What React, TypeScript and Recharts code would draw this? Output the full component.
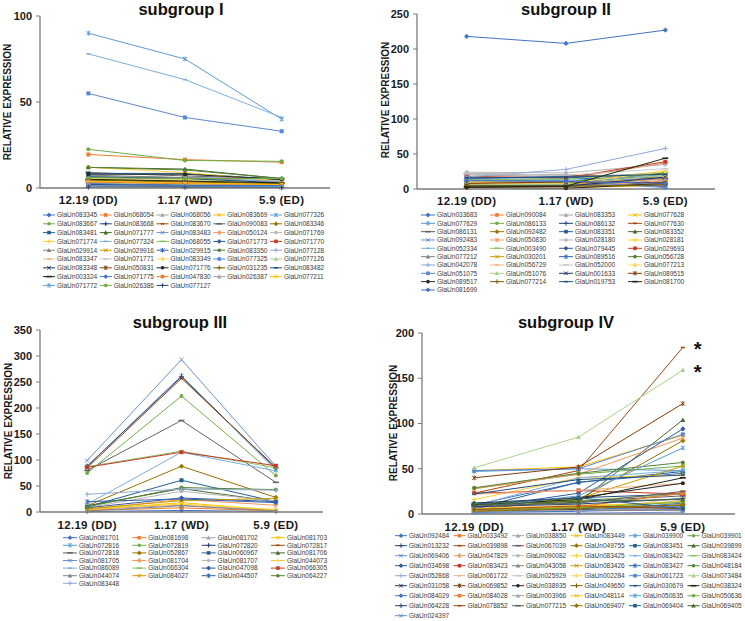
import React from 'react';
import { LineChart, Line, XAxis, YAxis, LabelList } from 'recharts';

const categories = ['12.19 (DD)', '1.17 (WD)', '5.9 (ED)'];

// Excel 2013 series colour cycle
const palette = [
  '#4472C4', '#ED7D31', '#A5A5A5', '#FFC000', '#5B9BD5', '#70AD47',
  '#264478', '#9E480E', '#636363', '#997300', '#255E91', '#43682B',
  '#698ED0', '#F1975A', '#B7B7B7', '#FFCD33', '#7CAFDD', '#8CC168',
  '#335AA1', '#C43B26', '#848484', '#CC9A00', '#2E63B0', '#548235',
  '#8FAADC', '#F4B183', '#C9C9C9', '#FFD966', '#5A86D0', '#A9D18E',
  '#203864', '#843C0C', '#262626', '#7F6000', '#1F4E79', '#1E2A14',
];
const markerCycle = ['diamond', 'square', 'triangle', 'x', 'star', 'circle', 'plus', 'dash', 'longdash'];

// ---------------- subgroup I ----------------
const sg1Genes = [
  'GlaUn083345', 'GlaUn068054', 'GlaUn068056', 'GlaUn083669', 'GlaUn077326',
  'GlaUn083667', 'GlaUn083668', 'GlaUn083670', 'GlaUn090083', 'GlaUn083346',
  'GlaUn083481', 'GlaUn071777', 'GlaUn083483', 'GlaUn050124', 'GlaUn071769',
  'GlaUn071774', 'GlaUn077324', 'GlaUn068055', 'GlaUn071773', 'GlaUn071770',
  'GlaUn029914', 'GlaUn029916', 'GlaUn029915', 'GlaUn083350', 'GlaUn077128',
  'GlaUn083347', 'GlaUn071771', 'GlaUn083349', 'GlaUn077325', 'GlaUn077126',
  'GlaUn083348', 'GlaUn050831', 'GlaUn071776', 'GlaUn031235', 'GlaUn083482',
  'GlaUn003324', 'GlaUn071775', 'GlaUn047830', 'GlaUn026387', 'GlaUn077211',
  'GlaUn071772', 'GlaUn026386', 'GlaUn077127',
];
const sg1Values = [
  [3, 2, 1.5], [19.5, 16.5, 15], [6, 5, 3], [5, 4, 2.5], [90, 75, 40],
  [22.5, 16, 15.5], [7, 6, 5], [2, 1.5, 1], [9, 7, 5.5], [4, 3, 2],
  [8.5, 8.5, 5], [12, 11, 5.5], [2, 1, 1], [4, 3, 2], [7, 6, 4],
  [12, 9, 4], [78, 63, 41], [5, 4, 3], [3, 2, 1], [2.5, 1.5, 1],
  [7.5, 6, 3.5], [5, 4, 2], [1.5, 1, 0.5], [12, 10.5, 5.5], [6, 5, 4],
  [3, 2.5, 2], [4, 3.5, 2.5], [5.5, 5, 3], [55, 41, 33], [3, 2, 1.5],
  [2, 1.5, 1], [1.5, 1, 0.5], [8, 8, 5], [4.5, 3.5, 2.5], [6.5, 5.5, 3],
  [5, 4, 3], [2.5, 1.5, 1.5], [3.5, 2.5, 2], [1, 0.5, 0.5], [4, 3, 2],
  [1.5, 1, 0.8], [6, 5.5, 5.5], [0.5, 0.5, 0.3],
];
const sg1Ticks = [0, 50, 100];

// ---------------- subgroup II ----------------
const sg2Genes = [
  'GlaUn033683', 'GlaUn090084', 'GlaUn083353', 'GlaUn077628',
  'GlaUn077629', 'GlaUn086133', 'GlaUn086132', 'GlaUn077630',
  'GlaUn086131', 'GlaUn092482', 'GlaUn083351', 'GlaUn083352',
  'GlaUn092483', 'GlaUn050830', 'GlaUn028180', 'GlaUn028181',
  'GlaUn052334', 'GlaUn003490', 'GlaUn079445', 'GlaUn029693',
  'GlaUn077212', 'GlaUn030201', 'GlaUn089516', 'GlaUn056728',
  'GlaUn042078', 'GlaUn056729', 'GlaUn052000', 'GlaUn077213',
  'GlaUn051075', 'GlaUn051076', 'GlaUn001633', 'GlaUn089515',
  'GlaUn089517', 'GlaUn077214', 'GlaUn019753', 'GlaUn081700',
  'GlaUn081699',
];
const sg2Values = [
  [218, 208, 227], [17, 15, 37], [20, 18, 22], [8, 6, 18],
  [14, 12, 20], [8, 16, 22], [6, 5, 15], [4, 3, 10],
  [22, 20, 15], [3, 2, 8], [5, 4, 12], [10, 8, 20],
  [12, 10, 16], [9, 7, 14], [24, 23, 35], [11, 9, 26],
  [15, 14, 19], [13, 14, 24], [4, 3, 6], [18, 16, 39],
  [7, 6, 10], [2, 2, 5], [15, 18, 3], [9, 10, 23],
  [17, 28, 58], [3, 2, 12], [22, 20, 29], [9, 8, 25],
  [12, 11, 2], [6, 7, 20], [5, 4, 17], [8, 10, 9],
  [2, 1, 8], [5, 4, 6], [16, 17, 21], [3, 4, 44],
  [12, 11, 8],
];
const sg2Ticks = [0, 50, 100, 150, 200, 250];

// ---------------- subgroup III ----------------
const sg3Genes = [
  'GlaUn081701', 'GlaUn081698', 'GlaUn081702', 'GlaUn081703',
  'GlaUn072816', 'GlaUn072819', 'GlaUn072820', 'GlaUn072817',
  'GlaUn072818', 'GlaUn052867', 'GlaUn060967', 'GlaUn081706',
  'GlaUn081705', 'GlaUn081704', 'GlaUn081707', 'GlaUn044073',
  'GlaUn086089', 'GlaUn066304', 'GlaUn047098', 'GlaUn066305',
  'GlaUn044074', 'GlaUn084027', 'GlaUn044507', 'GlaUn064227',
  'GlaUn083448',
];
const sg3Values = [
  [1, 3, 1], [3, 8, 2], [5, 13, 3], [4, 18, 3],
  [88, 262, 80], [75, 223, 70], [88, 260, 84], [85, 257, 86],
  [80, 176, 57], [12, 88, 28], [10, 61, 20], [12, 45, 20],
  [99, 293, 88], [5, 24, 13], [8, 40, 21], [7, 15, 5],
  [15, 115, 79], [87, 117, 85], [8, 27, 20], [86, 115, 89],
  [2, 12, 2], [6, 22, 26], [20, 25, 18], [10, 47, 43],
  [34, 44, 42],
];
const sg3Ticks = [0, 50, 100, 150, 200, 250, 300, 350];

// ---------------- subgroup IV ----------------
const sg4Genes = [
  'GlaUn092484', 'GlaUn033492', 'GlaUn038850', 'GlaUn083449', 'GlaUn039900', 'GlaUn039901',
  'GlaUn013232', 'GlaUn039898', 'GlaUn067039', 'GlaUn049755', 'GlaUn083451', 'GlaUn039899',
  'GlaUn069406', 'GlaUn047829', 'GlaUn090082', 'GlaUn083425', 'GlaUn083422', 'GlaUn083424',
  'GlaUn034698', 'GlaUn083423', 'GlaUn043058', 'GlaUn083426', 'GlaUn083427', 'GlaUn048184',
  'GlaUn052868', 'GlaUn061722', 'GlaUn025929', 'GlaUn002284', 'GlaUn061723', 'GlaUn073484',
  'GlaUn031058', 'GlaUn069852', 'GlaUn038935', 'GlaUn049650', 'GlaUn030679', 'GlaUn038324',
  'GlaUn084029', 'GlaUn084028', 'GlaUn003966', 'GlaUn048114', 'GlaUn050635', 'GlaUn050636',
  'GlaUn064228', 'GlaUn078852', 'GlaUn077215', 'GlaUn069407', 'GlaUn069404', 'GlaUn069405',
  'GlaUn024397',
];
const sg4Values = [
  [10, 35, 45], [5, 8, 24], [3, 5, 8], [48, 52, 87], [47, 50, 48], [28, 44, 53],
  [7, 18, 22], [23, 48, 184], [12, 14, 20], [5, 16, 81], [6, 35, 47], [8, 13, 104],
  [2, 3, 5], [28, 44, 84], [4, 6, 10], [16, 40, 43], [9, 40, 48], [12, 15, 22],
  [6, 23, 94], [23, 26, 22], [3, 4, 4], [10, 17, 53], [4, 6, 8], [29, 45, 57],
  [2, 3, 15], [22, 26, 34], [3, 3, 18], [6, 10, 12], [48, 50, 88], [51, 85, 159],
  [3, 5, 6], [40, 52, 122], [12, 18, 34], [5, 7, 10], [22, 38, 43], [10, 16, 40],
  [2, 3, 12], [4, 8, 23], [3, 4, 7], [6, 8, 14], [7, 20, 73], [4, 7, 13],
  [8, 11, 17], [5, 9, 6], [9, 12, 25], [3, 6, 10], [11, 18, 6], [10, 14, 16],
  [1, 1, 2],
];
const sg4Ticks = [0, 50, 100, 150, 200];
const sg4Starred = ['GlaUn039898', 'GlaUn073484'];

const FONT = '"Liberation Sans", Arial, sans-serif';
const AXIS = '#7a7a7a';

const colorOf = (i: number) => palette[i % palette.length];
const shapeOf = (i: number) => markerCycle[i % markerCycle.length];

function marker(shape: string, cx: number, cy: number, color: string, s: number) {
  const h = s / 2;
  switch (shape) {
    case 'diamond':
      return <path d={`M${cx},${cy - h - 0.6}L${cx + h + 0.6},${cy}L${cx},${cy + h + 0.6}L${cx - h - 0.6},${cy}Z`} fill={color} />;
    case 'square':
      return <rect x={cx - h} y={cy - h} width={s} height={s} fill={color} />;
    case 'triangle':
      return <path d={`M${cx},${cy - h - 0.5}L${cx + h + 0.5},${cy + h}L${cx - h - 0.5},${cy + h}Z`} fill={color} />;
    case 'x':
      return <path d={`M${cx - h},${cy - h}L${cx + h},${cy + h}M${cx - h},${cy + h}L${cx + h},${cy - h}`} stroke={color} strokeWidth={1} fill="none" />;
    case 'star':
      return <path d={`M${cx - h},${cy - h}L${cx + h},${cy + h}M${cx - h},${cy + h}L${cx + h},${cy - h}M${cx},${cy - h - 0.5}L${cx},${cy + h + 0.5}`} stroke={color} strokeWidth={1} fill="none" />;
    case 'circle':
      return <circle cx={cx} cy={cy} r={h} fill={color} />;
    case 'plus':
      return <path d={`M${cx - h - 0.5},${cy}L${cx + h + 0.5},${cy}M${cx},${cy - h - 0.5}L${cx},${cy + h + 0.5}`} stroke={color} strokeWidth={1} fill="none" />;
    case 'dash':
      return <rect x={cx - h} y={cy - 0.8} width={s} height={1.6} fill={color} />;
    case 'longdash':
      return <rect x={cx - h - 1} y={cy - 0.8} width={s + 2} height={1.6} fill={color} />;
    default:
      return null;
  }
}

type PanelCfg = {
  left: number; top: number; width: number; height: number;
  margin: { top: number; right: number; bottom: number; left: number };
  domain: [number, number];
  tickMargin: number;
};

const panelI: PanelCfg = { left: 0, top: 0, width: 372, height: 210, margin: { top: 16, right: 42, bottom: 2, left: 10 }, domain: [0, 100], tickMargin: 2 };
const panelII: PanelCfg = { left: 372, top: 0, width: 373, height: 211, margin: { top: 14, right: 30, bottom: 2, left: 15 }, domain: [0, 250], tickMargin: 2 };
const panelIII: PanelCfg = { left: 0, top: 310, width: 372, height: 224, margin: { top: 20, right: 49, bottom: 2, left: 10 }, domain: [0, 350], tickMargin: 3 };
const panelIV: PanelCfg = { left: 372, top: 310, width: 373, height: 226, margin: { top: 23, right: 10, bottom: 2, left: 20 }, domain: [0, 200], tickMargin: 3 };

type LegCfg = { x0: number; y0: number; cols: number; colW: number; rowH: number; sampleW: number };
const legI: LegCfg = { x0: 43, y0: 215, cols: 5, colW: 56.75, rowH: 8.8, sampleW: 12 };
const legII: LegCfg = { x0: 421, y0: 215, cols: 4, colW: 69, rowH: 8.33, sampleW: 14 };
const legIII: LegCfg = { x0: 63, y0: 537.7, cols: 4, colW: 69.3, rowH: 7.6, sampleW: 14 };
const legIV: LegCfg = { x0: 395, y0: 535.7, cols: 6, colW: 58.5, rowH: 10, sampleW: 12 };

function Panel({ cfg, genes, values, ticks, starred = [] }: { cfg: PanelCfg; genes: string[]; values: number[][]; ticks: number[]; starred?: string[] }) {
  const data = categories.map((c, ci) => {
    const row: Record<string, any> = { cat: c };
    genes.forEach((g, gi) => { row[g] = values[gi][ci]; });
    return row;
  });
  return (
    <div style={{ position: 'absolute', left: cfg.left, top: cfg.top }}>
      <LineChart width={cfg.width} height={cfg.height} data={data} margin={cfg.margin}>
        <XAxis
          dataKey="cat"
          scale="band"
          interval={0}
          height={20}
          tickLine={false}
          tickMargin={cfg.tickMargin}
          axisLine={{ stroke: AXIS, strokeWidth: 1.3 }}
          tick={{ fontSize: 11.5, fontWeight: 'bold', fill: '#1a1a1a', fontFamily: FONT, letterSpacing: 0.3 }}
        />
        <YAxis
          type="number"
          domain={cfg.domain}
          ticks={ticks}
          width={30}
          tickSize={4}
          tickMargin={4}
          axisLine={{ stroke: AXIS, strokeWidth: 1.3 }}
          tickLine={{ stroke: AXIS }}
          tick={{ fontSize: 11, fontWeight: 'bold', fill: '#1a1a1a', fontFamily: FONT }}
        />
        {genes.map((g, gi) => {
          const color = colorOf(gi);
          const shape = shapeOf(gi);
          return (
            <Line
              key={g}
              dataKey={g}
              stroke={color}
              strokeWidth={1}
              isAnimationActive={false}
              activeDot={false}
              dot={(p: any) => (
                <g key={`${g}-dot-${p.index}`}>{marker(shape, p.cx, p.cy, color, 4)}</g>
              )}
            >
              {starred.includes(g) ? (
                <LabelList
                  dataKey={g}
                  content={(p: any) =>
                    p.index === 2 ? (
                      <text x={Number(p.x) + 11} y={Number(p.y) + 9} fontSize={20} fontWeight="bold" fill="#111" fontFamily={FONT}>*</text>
                    ) : <g />
                  }
                />
              ) : null}
            </Line>
          );
        })}
      </LineChart>
    </div>
  );
}

function LegendItems({ genes, cfg }: { genes: string[]; cfg: LegCfg }) {
  return (
    <g>
      {genes.map((g, i) => {
        const col = i % cfg.cols;
        const row = Math.floor(i / cfg.cols);
        const x = cfg.x0 + col * cfg.colW;
        const y = cfg.y0 + row * cfg.rowH;
        const color = colorOf(i);
        return (
          <g key={g}>
            <line x1={x} y1={y} x2={x + cfg.sampleW} y2={y} stroke={color} strokeWidth={1} />
            {marker(shapeOf(i), x + cfg.sampleW / 2, y, color, 3.6)}
            <text x={x + cfg.sampleW + 2} y={y + 2.3} fontSize={6.5} fill="#3a3a3a" fontFamily={FONT}>{g}</text>
          </g>
        );
      })}
    </g>
  );
}

const titleStyle = { fontSize: 16.5, fontWeight: 'bold' as const, fill: '#111', fontFamily: FONT };
const ylabStyle = { fontSize: 10, fontWeight: 'bold' as const, fill: '#1a1a1a', fontFamily: FONT };

export default function App() {
  return (
    <div style={{ position: 'absolute', left: 0, top: 0, width: 745, height: 621, background: '#fff', fontFamily: FONT }}>
      <Panel cfg={panelI} genes={sg1Genes} values={sg1Values} ticks={sg1Ticks} />
      <Panel cfg={panelII} genes={sg2Genes} values={sg2Values} ticks={sg2Ticks} />
      <Panel cfg={panelIII} genes={sg3Genes} values={sg3Values} ticks={sg3Ticks} />
      <Panel cfg={panelIV} genes={sg4Genes} values={sg4Values} ticks={sg4Ticks} starred={sg4Starred} />
      <svg width={745} height={621} style={{ position: 'absolute', left: 0, top: 0, pointerEvents: 'none' }}>
        <text x={181} y={14.5} textAnchor="middle" {...titleStyle}>subgroup I</text>
        <text x={566} y={14.5} textAnchor="middle" {...titleStyle}>subgroup II</text>
        <text x={180} y={327.5} textAnchor="middle" {...titleStyle}>subgroup III</text>
        <text x={566} y={327.5} textAnchor="middle" {...titleStyle}>subgroup IV</text>
        <text transform="translate(10.5,102) rotate(-90)" textAnchor="middle" {...ylabStyle}>RELATIVE  EXPRESSION</text>
        <text transform="translate(389,100) rotate(-90)" textAnchor="middle" {...ylabStyle}>RELATIVE  EXPRESSION</text>
        <text transform="translate(11.5,421) rotate(-90)" textAnchor="middle" {...ylabStyle}>RELATIVE  EXPRESSION</text>
        <text transform="translate(397,423) rotate(-90)" textAnchor="middle" {...ylabStyle}>RELATIVE  EXPRESSION</text>
        <LegendItems genes={sg1Genes} cfg={legI} />
        <LegendItems genes={sg2Genes} cfg={legII} />
        <LegendItems genes={sg3Genes} cfg={legIII} />
        <LegendItems genes={sg4Genes} cfg={legIV} />
      </svg>
    </div>
  );
}
